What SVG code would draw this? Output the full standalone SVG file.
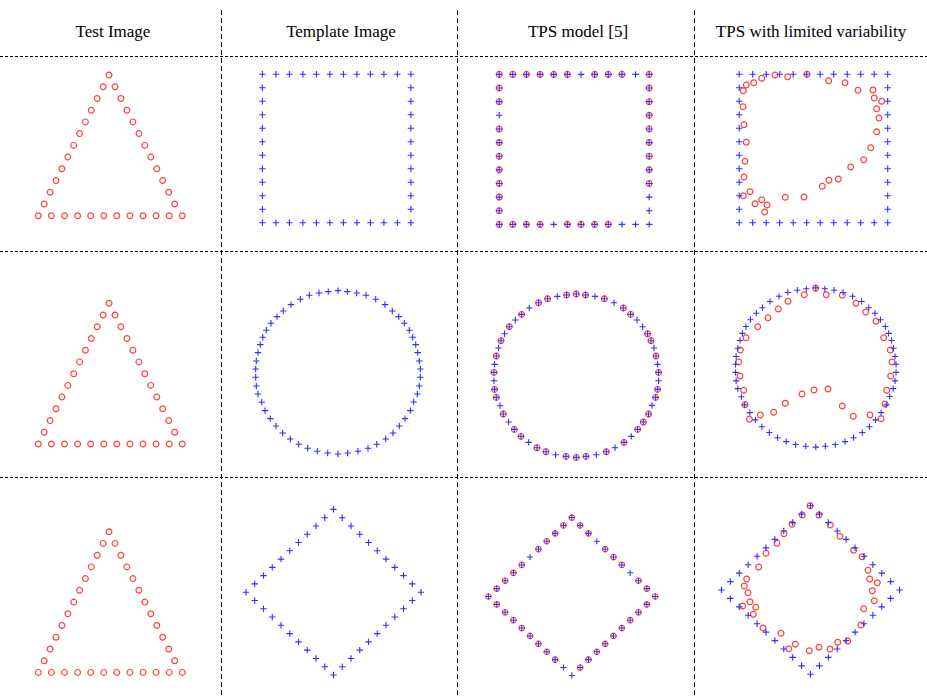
<svg xmlns="http://www.w3.org/2000/svg" xmlns:xlink="http://www.w3.org/1999/xlink" width="927" height="697" viewBox="0 0 927 697">
<style>
.grid{stroke:#000;stroke-width:1;fill:none}
.gh{stroke-dasharray:3 2}
.gv{stroke-dasharray:5 3}
.hd{font-family:"Liberation Serif","Times New Roman",serif;font-size:17px;fill:#000;text-anchor:middle}
.pl{stroke:#3030ff;stroke-width:1.1;fill:none}
.ci{stroke:#ff4040;stroke-width:1.2;fill:none}
</style>
<defs>
<path id="p" class="pl" d="M-3.2,0H3.2M0,-3.2V3.2"/>
<circle id="c" class="ci" r="2.9"/>
<g id="tri">
<use href="#c" x="109" y="75"/>
<use href="#c" x="103.1" y="86.7"/><use href="#c" x="97.2" y="98.5"/><use href="#c" x="91.3" y="110.2"/><use href="#c" x="85.4" y="121.9"/><use href="#c" x="79.6" y="133.6"/><use href="#c" x="73.7" y="145.4"/><use href="#c" x="67.8" y="157.1"/><use href="#c" x="61.9" y="168.8"/><use href="#c" x="56" y="180.5"/><use href="#c" x="50.1" y="192.3"/><use href="#c" x="44.2" y="204"/>
<use href="#c" x="115" y="86.7"/><use href="#c" x="120.9" y="98.5"/><use href="#c" x="126.9" y="110.2"/><use href="#c" x="132.9" y="121.9"/><use href="#c" x="138.9" y="133.6"/><use href="#c" x="144.8" y="145.4"/><use href="#c" x="150.8" y="157.1"/><use href="#c" x="156.8" y="168.8"/><use href="#c" x="162.7" y="180.5"/><use href="#c" x="168.7" y="192.3"/><use href="#c" x="174.7" y="204"/>
<use href="#c" x="38.3" y="215.7"/><use href="#c" x="51.4" y="215.7"/><use href="#c" x="64.5" y="215.7"/><use href="#c" x="77.6" y="215.7"/><use href="#c" x="90.7" y="215.7"/><use href="#c" x="103.8" y="215.7"/><use href="#c" x="116.8" y="215.7"/><use href="#c" x="129.9" y="215.7"/><use href="#c" x="143" y="215.7"/><use href="#c" x="156.1" y="215.7"/><use href="#c" x="169.2" y="215.7"/><use href="#c" x="182.3" y="215.7"/>
</g>
<g id="sq">
<use href="#p" x="0" y="0"/><use href="#p" x="13.5" y="0"/><use href="#p" x="27" y="0"/><use href="#p" x="40.5" y="0"/><use href="#p" x="54" y="0"/><use href="#p" x="67.5" y="0"/><use href="#p" x="81" y="0"/><use href="#p" x="94.5" y="0"/><use href="#p" x="108" y="0"/><use href="#p" x="121.5" y="0"/><use href="#p" x="135" y="0"/><use href="#p" x="148.5" y="0"/>
<use href="#p" x="0" y="148.5"/><use href="#p" x="13.5" y="148.5"/><use href="#p" x="27" y="148.5"/><use href="#p" x="40.5" y="148.5"/><use href="#p" x="54" y="148.5"/><use href="#p" x="67.5" y="148.5"/><use href="#p" x="81" y="148.5"/><use href="#p" x="94.5" y="148.5"/><use href="#p" x="108" y="148.5"/><use href="#p" x="121.5" y="148.5"/><use href="#p" x="135" y="148.5"/><use href="#p" x="148.5" y="148.5"/>
<use href="#p" x="0" y="13.5"/><use href="#p" x="0" y="27"/><use href="#p" x="0" y="40.5"/><use href="#p" x="0" y="54"/><use href="#p" x="0" y="67.5"/><use href="#p" x="0" y="81"/><use href="#p" x="0" y="94.5"/><use href="#p" x="0" y="108"/><use href="#p" x="0" y="121.5"/><use href="#p" x="0" y="135"/>
<use href="#p" x="148.5" y="13.5"/><use href="#p" x="148.5" y="27"/><use href="#p" x="148.5" y="40.5"/><use href="#p" x="148.5" y="54"/><use href="#p" x="148.5" y="67.5"/><use href="#p" x="148.5" y="81"/><use href="#p" x="148.5" y="94.5"/><use href="#p" x="148.5" y="108"/><use href="#p" x="148.5" y="121.5"/><use href="#p" x="148.5" y="135"/>
</g>
<g id="circ">
<use href="#p" x="0" y="-81.7"/><use href="#p" x="9.3" y="-80.7"/><use href="#p" x="18.7" y="-79.3"/><use href="#p" x="28" y="-77"/><use href="#p" x="37.7" y="-73"/><use href="#p" x="47" y="-67.7"/><use href="#p" x="54.3" y="-61.3"/><use href="#p" x="60.7" y="-55.7"/><use href="#p" x="66.3" y="-49"/><use href="#p" x="71.3" y="-42"/><use href="#p" x="74.7" y="-35"/><use href="#p" x="77.7" y="-27.7"/><use href="#p" x="79.7" y="-19.7"/><use href="#p" x="81.3" y="-11.3"/><use href="#p" x="82.3" y="-3.3"/><use href="#p" x="82.3" y="5"/><use href="#p" x="81.3" y="13.7"/><use href="#p" x="79.3" y="21.7"/><use href="#p" x="75.7" y="29.7"/><use href="#p" x="72.3" y="38.3"/><use href="#p" x="67" y="46.3"/><use href="#p" x="61.3" y="53.7"/><use href="#p" x="55" y="60.7"/><use href="#p" x="47.7" y="66.7"/><use href="#p" x="38.7" y="72"/><use href="#p" x="30" y="76"/><use href="#p" x="20" y="79"/><use href="#p" x="9.7" y="80.7"/>
<use href="#p" x="0" y="81.7"/><use href="#p" x="-10.3" y="80.7"/><use href="#p" x="-20.7" y="79"/><use href="#p" x="-30.3" y="76"/><use href="#p" x="-39.3" y="72"/><use href="#p" x="-47.7" y="66.7"/><use href="#p" x="-55.3" y="60.7"/><use href="#p" x="-62" y="53.7"/><use href="#p" x="-67.7" y="46.3"/><use href="#p" x="-73" y="38.3"/><use href="#p" x="-76.3" y="30"/><use href="#p" x="-80" y="21.7"/><use href="#p" x="-81.7" y="13.7"/><use href="#p" x="-82.3" y="5"/><use href="#p" x="-82.3" y="-3.3"/><use href="#p" x="-81.7" y="-11.3"/><use href="#p" x="-80" y="-19.7"/><use href="#p" x="-77.7" y="-27.7"/><use href="#p" x="-75.3" y="-35"/><use href="#p" x="-71.7" y="-42"/><use href="#p" x="-67" y="-49"/><use href="#p" x="-61" y="-55.7"/><use href="#p" x="-54.7" y="-61.3"/><use href="#p" x="-47" y="-67.7"/><use href="#p" x="-37.7" y="-73"/><use href="#p" x="-28.7" y="-77"/><use href="#p" x="-19" y="-79.3"/><use href="#p" x="-9.7" y="-80.7"/>
</g>
<g id="dia">
<use href="#p" x="0" y="-82.8"/><use href="#p" x="8.75" y="-74.52"/><use href="#p" x="17.5" y="-66.24"/><use href="#p" x="26.25" y="-57.96"/><use href="#p" x="35" y="-49.68"/><use href="#p" x="43.75" y="-41.4"/><use href="#p" x="52.5" y="-33.12"/><use href="#p" x="61.25" y="-24.84"/><use href="#p" x="70" y="-16.56"/><use href="#p" x="78.75" y="-8.28"/>
<use href="#p" x="87.5" y="0"/><use href="#p" x="78.75" y="8.28"/><use href="#p" x="70" y="16.56"/><use href="#p" x="61.25" y="24.84"/><use href="#p" x="52.5" y="33.12"/><use href="#p" x="43.75" y="41.4"/><use href="#p" x="35" y="49.68"/><use href="#p" x="26.25" y="57.96"/><use href="#p" x="17.5" y="66.24"/><use href="#p" x="8.75" y="74.52"/>
<use href="#p" x="0" y="82.8"/><use href="#p" x="-8.75" y="74.52"/><use href="#p" x="-17.5" y="66.24"/><use href="#p" x="-26.25" y="57.96"/><use href="#p" x="-35" y="49.68"/><use href="#p" x="-43.75" y="41.4"/><use href="#p" x="-52.5" y="33.12"/><use href="#p" x="-61.25" y="24.84"/><use href="#p" x="-70" y="16.56"/><use href="#p" x="-78.75" y="8.28"/>
<use href="#p" x="-87.5" y="0"/><use href="#p" x="-78.75" y="-8.28"/><use href="#p" x="-70" y="-16.56"/><use href="#p" x="-61.25" y="-24.84"/><use href="#p" x="-52.5" y="-33.12"/><use href="#p" x="-43.75" y="-41.4"/><use href="#p" x="-35" y="-49.68"/><use href="#p" x="-26.25" y="-57.96"/><use href="#p" x="-17.5" y="-66.24"/><use href="#p" x="-8.75" y="-74.52"/>
</g>
</defs>
<rect width="927" height="697" fill="#fff"/>
<g id="grid">
<line class="grid gv" x1="221.5" y1="10" x2="221.5" y2="697"/>
<line class="grid gv" x1="457.5" y1="10" x2="457.5" y2="697"/>
<line class="grid gv" x1="694.5" y1="10" x2="694.5" y2="697"/>
<line class="grid gh" x1="0" y1="56.5" x2="927" y2="56.5"/>
<line class="grid gh" x1="0" y1="251.5" x2="927" y2="251.5"/>
<line class="grid gh" x1="0" y1="477.5" x2="927" y2="477.5"/>
</g>
<g id="headers">
<text class="hd" x="113" y="37">Test Image</text>
<text class="hd" x="341" y="37">Template Image</text>
<text class="hd" x="578" y="37">TPS model [5]</text>
<text class="hd" x="811" y="37">TPS with limited variability</text>
</g>
<g id="row1-test"><use href="#tri"/></g>
<g id="row2-test"><use href="#tri" y="228.3"/></g>
<g id="row3-test"><use href="#tri" y="456.7"/></g>
<g id="row1-template"><use href="#sq" transform="translate(262.4,74.3)"/></g>
<g id="row1-tps" transform="translate(499.2,74.4) scale(1.01)">
<use href="#c" x="0" y="0"/><use href="#c" x="13.5" y="0"/><use href="#c" x="27" y="0"/><use href="#c" x="40.5" y="0"/><use href="#c" x="54" y="0"/><use href="#c" x="67.5" y="0"/><use href="#c" x="94.5" y="0"/><use href="#c" x="108" y="0"/><use href="#c" x="121.5" y="0"/><use href="#c" x="148.5" y="0"/>
<use href="#c" x="0" y="13.5"/><use href="#c" x="0" y="27"/><use href="#c" x="0" y="54"/><use href="#c" x="0" y="67.5"/><use href="#c" x="0" y="81"/><use href="#c" x="0" y="94.5"/><use href="#c" x="0" y="108"/><use href="#c" x="0" y="121.5"/><use href="#c" x="0" y="135"/><use href="#c" x="0" y="148.5"/>
<use href="#c" x="148.5" y="13.5"/><use href="#c" x="148.5" y="27"/><use href="#c" x="148.5" y="40.5"/><use href="#c" x="148.5" y="54"/><use href="#c" x="148.5" y="67.5"/><use href="#c" x="148.5" y="81"/><use href="#c" x="148.5" y="94.5"/><use href="#c" x="148.5" y="108"/>
<use href="#c" x="13.5" y="148.5"/><use href="#c" x="27" y="148.5"/><use href="#c" x="40.5" y="148.5"/><use href="#c" x="67.5" y="148.5"/><use href="#c" x="81" y="148.5"/><use href="#c" x="94.5" y="148.5"/><use href="#c" x="108" y="148.5"/>
<use href="#sq"/>
</g>
<g id="row1-limited">
<use href="#c" x="746.3" y="85"/><use href="#c" x="743.3" y="90.7"/><use href="#c" x="753.7" y="82.7"/><use href="#c" x="761.7" y="78.3"/><use href="#c" x="775" y="75"/><use href="#c" x="787.7" y="76.7"/><use href="#c" x="807" y="74.3"/><use href="#c" x="828.7" y="80.7"/><use href="#c" x="845" y="82.7"/><use href="#c" x="858" y="90.3"/><use href="#c" x="873" y="90"/><use href="#c" x="874.3" y="98"/><use href="#c" x="881.7" y="101.3"/><use href="#c" x="876.7" y="108.7"/><use href="#c" x="879" y="118"/><use href="#c" x="876.7" y="131.7"/><use href="#c" x="870.7" y="147.7"/><use href="#c" x="863.7" y="159.7"/><use href="#c" x="850.7" y="167"/><use href="#c" x="838.3" y="179"/><use href="#c" x="829" y="180.3"/><use href="#c" x="822.3" y="186.3"/><use href="#c" x="804" y="197"/><use href="#c" x="785.3" y="197.3"/><use href="#c" x="767" y="205"/><use href="#c" x="761.7" y="199.7"/><use href="#c" x="755" y="203.7"/><use href="#c" x="764.7" y="212"/><use href="#c" x="750" y="191.7"/><use href="#c" x="743.3" y="195.7"/><use href="#c" x="744" y="177"/><use href="#c" x="745" y="161.3"/><use href="#c" x="746.3" y="142.3"/><use href="#c" x="744" y="124.7"/><use href="#c" x="743" y="106.7"/>
<use href="#sq" transform="translate(739.2,74.3)"/>
</g>
<g id="row2-template"><use href="#circ" transform="translate(338,372.3)"/></g>
<g id="row2-tps" transform="translate(576.3,375.7)">
<use href="#c" x="0" y="-81.7"/><use href="#c" x="9.3" y="-80.7"/><use href="#c" x="28" y="-77"/><use href="#c" x="47" y="-67.7"/><use href="#c" x="54.3" y="-61.3"/><use href="#c" x="71.3" y="-42"/><use href="#c" x="74.7" y="-35"/><use href="#c" x="79.7" y="-19.7"/><use href="#c" x="82.3" y="-3.3"/><use href="#c" x="81.3" y="13.7"/><use href="#c" x="79.3" y="21.7"/><use href="#c" x="72.3" y="38.3"/><use href="#c" x="67" y="46.3"/><use href="#c" x="61.3" y="53.7"/><use href="#c" x="47.7" y="66.7"/><use href="#c" x="30" y="76"/><use href="#c" x="9.7" y="80.7"/><use href="#c" x="0" y="81.7"/><use href="#c" x="-10.3" y="80.7"/><use href="#c" x="-30.3" y="76"/><use href="#c" x="-39.3" y="72"/><use href="#c" x="-55.3" y="60.7"/><use href="#c" x="-62" y="53.7"/><use href="#c" x="-73" y="38.3"/><use href="#c" x="-80" y="21.7"/><use href="#c" x="-81.7" y="13.7"/><use href="#c" x="-82.3" y="-3.3"/><use href="#c" x="-80" y="-19.7"/><use href="#c" x="-75.3" y="-35"/><use href="#c" x="-67" y="-49"/><use href="#c" x="-54.7" y="-61.3"/><use href="#c" x="-37.7" y="-73"/><use href="#c" x="-28.7" y="-77"/><use href="#c" x="-9.7" y="-80.7"/>
<use href="#circ"/>
</g>
<g id="row2-limited">
<use href="#c" x="815.7" y="288.3"/><use href="#c" x="804.3" y="294.7"/><use href="#c" x="826.3" y="294.7"/><use href="#c" x="842.3" y="295.3"/><use href="#c" x="788" y="301.3"/><use href="#c" x="856" y="303.3"/><use href="#c" x="778.3" y="309"/><use href="#c" x="865.7" y="312"/><use href="#c" x="768" y="317.7"/><use href="#c" x="876" y="321.3"/><use href="#c" x="757.7" y="326.7"/><use href="#c" x="883.7" y="337.7"/><use href="#c" x="746" y="337.7"/><use href="#c" x="740.3" y="350"/><use href="#c" x="890.3" y="350"/><use href="#c" x="738.7" y="362"/><use href="#c" x="892" y="362"/><use href="#c" x="740" y="376"/><use href="#c" x="890.7" y="376"/><use href="#c" x="743.7" y="390.3"/><use href="#c" x="886.7" y="390.3"/><use href="#c" x="802" y="394"/><use href="#c" x="814" y="390"/><use href="#c" x="828" y="389"/><use href="#c" x="785.3" y="403.3"/><use href="#c" x="745" y="404.7"/><use href="#c" x="885" y="404"/><use href="#c" x="842.3" y="406"/><use href="#c" x="773.7" y="412.3"/><use href="#c" x="760.3" y="415"/><use href="#c" x="853.3" y="416.3"/><use href="#c" x="870" y="415"/><use href="#c" x="749.3" y="419.3"/><use href="#c" x="881" y="418.7"/>
<use href="#circ" transform="translate(815.8,367.5) scale(0.975)"/>
</g>
<g id="row3-template"><use href="#dia" transform="translate(333.5,592.2)"/></g>
<g id="row3-tps" transform="translate(571.8,596.5) scale(0.953)">
<use href="#c" x="0" y="-82.8"/><use href="#c" x="8.75" y="-74.52"/><use href="#c" x="17.5" y="-66.24"/><use href="#c" x="35" y="-49.68"/><use href="#c" x="43.75" y="-41.4"/><use href="#c" x="52.5" y="-33.12"/><use href="#c" x="70" y="-16.56"/><use href="#c" x="78.75" y="-8.28"/>
<use href="#c" x="87.5" y="0"/><use href="#c" x="78.75" y="8.28"/><use href="#c" x="70" y="16.56"/><use href="#c" x="61.25" y="24.84"/><use href="#c" x="52.5" y="33.12"/><use href="#c" x="43.75" y="41.4"/><use href="#c" x="35" y="49.68"/><use href="#c" x="26.25" y="57.96"/><use href="#c" x="17.5" y="66.24"/><use href="#c" x="8.75" y="74.52"/>
<use href="#c" x="-17.5" y="66.24"/><use href="#c" x="-26.25" y="57.96"/><use href="#c" x="-35" y="49.68"/><use href="#c" x="-43.75" y="41.4"/><use href="#c" x="-52.5" y="33.12"/><use href="#c" x="-61.25" y="24.84"/><use href="#c" x="-70" y="16.56"/><use href="#c" x="-78.75" y="8.28"/>
<use href="#c" x="-87.5" y="0"/><use href="#c" x="-78.75" y="-8.28"/><use href="#c" x="-70" y="-16.56"/><use href="#c" x="-61.25" y="-24.84"/><use href="#c" x="-52.5" y="-33.12"/><use href="#c" x="-35" y="-49.68"/><use href="#c" x="-26.25" y="-57.96"/><use href="#c" x="-17.5" y="-66.24"/><use href="#c" x="-8.75" y="-74.52"/>
<use href="#dia"/>
</g>
<g id="row3-limited">
<use href="#c" x="810" y="505.7"/><use href="#c" x="802.3" y="515"/><use href="#c" x="819" y="515"/><use href="#c" x="792" y="524.3"/><use href="#c" x="830.3" y="525"/><use href="#c" x="784" y="533.7"/><use href="#c" x="840" y="536.3"/><use href="#c" x="777" y="543.3"/><use href="#c" x="853.7" y="550.3"/><use href="#c" x="766" y="553.3"/><use href="#c" x="862" y="556.7"/><use href="#c" x="758.7" y="567"/><use href="#c" x="868" y="570.3"/><use href="#c" x="746.7" y="579"/><use href="#c" x="869.7" y="579"/><use href="#c" x="877.3" y="582.7"/><use href="#c" x="744.3" y="586"/><use href="#c" x="872.3" y="590.7"/><use href="#c" x="748" y="592.7"/><use href="#c" x="874.3" y="600.7"/><use href="#c" x="750" y="601.7"/><use href="#c" x="742.7" y="606"/><use href="#c" x="755.7" y="607.3"/><use href="#c" x="863.7" y="608.7"/><use href="#c" x="753.3" y="614.3"/><use href="#c" x="861" y="625"/><use href="#c" x="763" y="628"/><use href="#c" x="781" y="633.3"/><use href="#c" x="847.7" y="641"/><use href="#c" x="837.7" y="642.3"/><use href="#c" x="795.3" y="644.3"/><use href="#c" x="788.7" y="648.7"/><use href="#c" x="819" y="647.3"/><use href="#c" x="809.3" y="650.7"/><use href="#c" x="830" y="649"/>
<use href="#dia" transform="translate(810.5,590) scale(1.018)"/>
</g>
</svg>
